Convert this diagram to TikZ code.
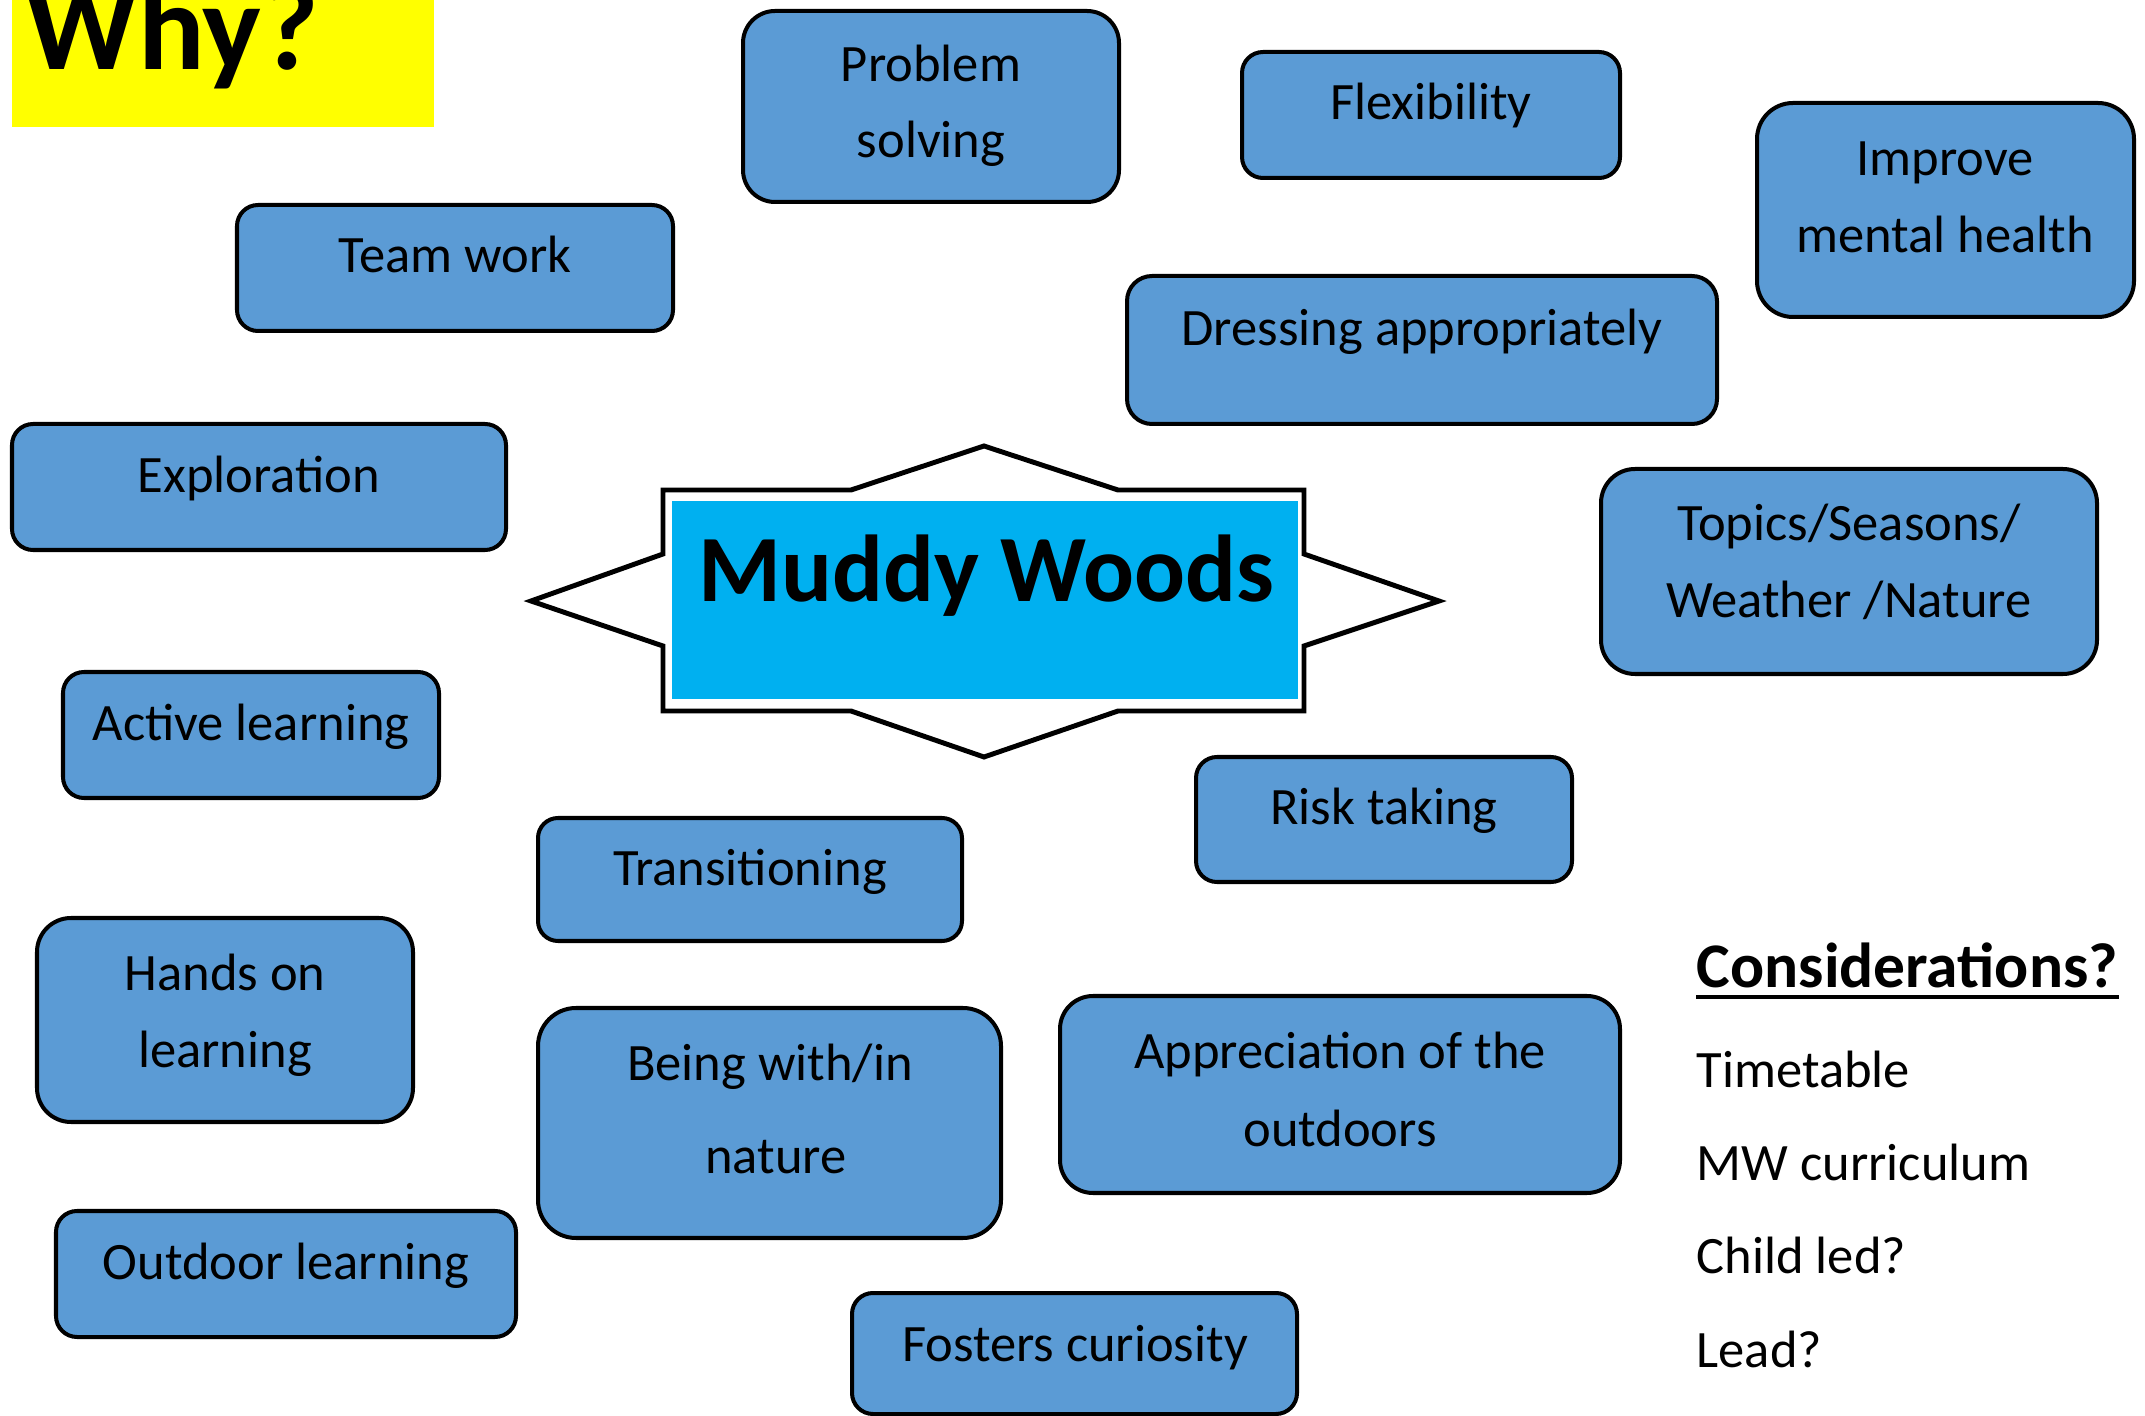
\documentclass[tikz,border=0pt]{standalone}
\usepackage{fontspec}
\setmainfont{Carlito}
\usetikzlibrary{fit}
\definecolor{boxblue}{HTML}{5B9BD5}
\definecolor{mwblue}{HTML}{00B0F0}
\definecolor{whyyellow}{HTML}{FFFF00}
\tikzset{
  box/.style={draw=black, line width=1.14pt, fill=boxblue, rounded corners=#1, inner sep=0pt},
  lbl/.style={inner sep=0pt, anchor=base, font=\fontsize{14.94}{18}\selectfont},
  item/.style={inner sep=0pt, anchor=base west, font=\fontsize{14.94}{18}\selectfont},
  starline/.style={draw=black, fill=white, line width=1.4pt, line join=miter},
}
\begin{document}
\begin{tikzpicture}[x=0.01cm, y=-0.01cm]
\useasboundingbox (0,0) rectangle (2145,1416);
\clip (0,0) rectangle (2145,1416);
\fill[white] (0,0) rectangle (2145,1416);

% Why? title
\node[fill=whyyellow, inner sep=0pt, fit={(12,-20) (434,127)}] (whybg) {};
\node[inner sep=0pt, anchor=base west, font=\bfseries\fontsize{35.3}{40}\selectfont] (why) at (25,70) {Why?};

% central star
\draw[starline] (531,601) -- (663,554) -- (663,490) -- (851,490) -- (984,446) -- (1118,490)
  -- (1304,490) -- (1304,554) -- (1439,601) -- (1304,646) -- (1304,711) -- (1118,711)
  -- (984,757) -- (851,711) -- (663,711) -- (663,646) -- cycle;
\node[fill=mwblue, inner sep=0pt, fit={(672,501) (1298,699)}] (mw) {};
\node[inner sep=0pt, anchor=base, font=\bfseries\fontsize{27}{32}\selectfont] (mwt) at (986,602) {Muddy Woods};

% boxes
\node[box=3.2mm, fit={(743,11) (1119,202)}] (prob) {};
\node[lbl] (probt1) at (931,82) {Problem};
\node[lbl] (probt2) at (931,158) {solving};

\node[box=2.1mm, fit={(1242,52) (1620,178)}] (flex) {};
\node[lbl] (flext) at (1431,120) {Flexibility};

\node[box=3.6mm, fit={(1757,103) (2134,317)}] (mental) {};
\node[lbl] (mentalt1) at (1945,176) {Improve};
\node[lbl] (mentalt2) at (1945,253) {mental health};

\node[box=2.1mm, fit={(237,205) (673,331)}] (team) {};
\node[lbl] (teamt) at (455,273) {Team work};

\node[box=2.5mm, fit={(1127,276) (1717,424)}] (dress) {};
\node[lbl] (dresst) at (1422,346) {Dressing appropriately};

\node[box=2.1mm, fit={(12,424) (506,550)}] (explo) {};
\node[lbl] (explot) at (259,493) {Exploration};

\node[box=3.4mm, fit={(1601,469) (2097,674)}] (topics) {};
\node[lbl] (topicst1) at (1849,541) {Topics/Seasons/};
\node[lbl] (topicst2) at (1849,618) {Weather /Nature};

\node[box=2.1mm, fit={(63,672) (439,798)}] (active) {};
\node[lbl] (activet) at (251,741) {Active learning};

\node[box=2.1mm, fit={(1196,757) (1572,882)}] (risk) {};
\node[lbl] (riskt) at (1384,824) {Risk taking};

\node[box=2.0mm, fit={(538,818) (962,941)}] (trans) {};
\node[lbl] (transt) at (750,886) {Transitioning};

\node[box=3.4mm, fit={(37,918) (413,1122)}] (hands) {};
\node[lbl] (handst1) at (225,990) {Hands on};
\node[lbl] (handst2) at (225,1067) {learning};

\node[box=3.8mm, fit={(538,1008) (1001,1238)}] (being) {};
\node[lbl] (beingt1) at (770,1080) {Being with/in};
\node[lbl] (beingt2) at (776,1173) {nature};

\node[box=3.3mm, fit={(1060,996) (1620,1193)}] (appre) {};
\node[lbl] (appret1) at (1340,1068) {Appreciation of the};
\node[lbl] (appret2) at (1340,1146) {outdoors};

\node[box=2.1mm, fit={(56,1211) (516,1337)}] (outdoor) {};
\node[lbl] (outdoort) at (286,1279) {Outdoor learning};

\node[box=2.1mm, fit={(852,1293) (1297,1414)}] (fosters) {};
\node[lbl] (fosterst) at (1075,1361) {Fosters curiosity};

% considerations
\node[inner sep=0pt, anchor=base west, font=\bfseries\fontsize{18.07}{22}\selectfont] (cons) at (1696,988) {Considerations?};
\draw[line width=1.1pt] ([yshift=-0.09cm]cons.base west) -- ([yshift=-0.09cm]cons.base east);
\node[item] (c1) at (1696,1087) {Timetable};
\node[item] (c2) at (1696,1180) {MW curriculum};
\node[item] (c3) at (1696,1273) {Child led?};
\node[item] (c4) at (1696,1367) {Lead?};
\end{tikzpicture}
\end{document}
